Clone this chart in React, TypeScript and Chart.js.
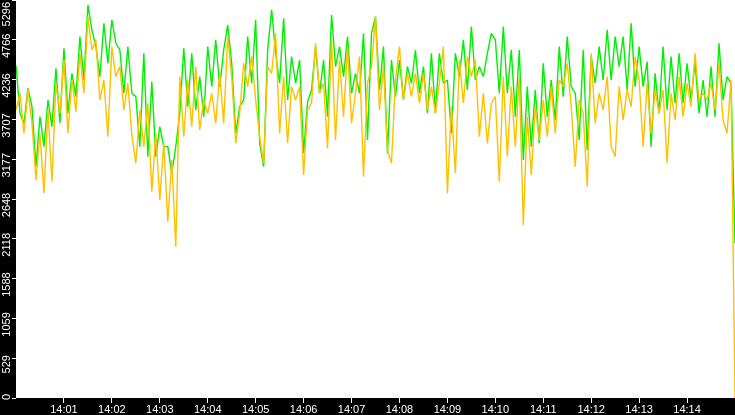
import { useEffect, useRef } from 'react';
import { Chart, registerables } from 'chart.js';

Chart.register(...registerables);

// one sample every 5 seconds, starting 14:00:00
const SAMPLE_STEP_S = 5;

const GREEN_SERIES = [
  4423, 3788, 3655, 4121, 3877, 3079, 3744, 3345, 3966, 3611,
  4388, 3655, 4654, 3788, 4321, 4010, 4809, 4232, 5230, 4898,
  4676, 4277, 4986, 4454, 5031, 4720, 4631, 4055, 4676, 4055,
  4010, 3345, 4587, 3212, 4210, 3212, 3611, 3345, 3345, 2990,
  3345, 3788, 4654, 3877, 4587, 3833, 4277, 3744, 4676, 4143,
  4765, 4143, 4631, 4964, 4454, 3522, 3877, 3966, 4809, 4188,
  5031, 3389, 3079, 4631, 5164, 4587, 4188, 5053, 3966, 4543,
  4188, 4498, 3256, 3944, 4099, 4676, 4055, 4498, 3744, 5097,
  4410, 4676, 4277, 4809, 4055, 4321, 4055, 4853, 3433, 4853,
  5075, 4099, 4676, 3256, 4498, 4010, 4498, 3966, 4410, 4188,
  4631, 4055, 4410, 3788, 4587, 3788, 4587, 4188, 4232, 3522,
  4587, 4277, 4765, 4099, 4942, 4232, 4410, 4277, 4587, 4853,
  4765, 4055, 4942, 4055, 4631, 3744, 4631, 3167, 4143, 3345,
  4099, 3389, 4454, 3744, 4232, 3700, 4676, 4010, 4809, 4143,
  4055, 3433, 4631, 3300, 4543, 4188, 4676, 4232, 4898, 4232,
  4809, 4410, 4809, 4099, 4986, 4143, 4676, 4143, 4476, 3345,
  4321, 3788, 4676, 3833, 4543, 3922, 4587, 3922, 4454, 3966,
  4476, 3788, 4232, 3744, 4410, 3744, 4720, 3966, 4277, 4188,
  2060,
];

const ORANGE_SERIES = [
  3833, 4055, 3522, 4099, 3655, 2901, 3522, 2724, 3833, 2879,
  4188, 3788, 4498, 3522, 4232, 3811, 4587, 4055, 5075, 4631,
  4765, 3966, 4232, 3478, 4676, 4277, 4410, 3833, 4188, 3500,
  3123, 3833, 3345, 3922, 2746, 3522, 2635, 3389, 2346, 3167,
  2014, 4277, 3478, 4232, 3611, 4410, 3567, 3966, 3788, 4055,
  3655, 4321, 3655, 4809, 4277, 3389, 3788, 4454, 4143, 4543,
  3966, 3478, 3123, 4410, 4321, 4853, 3522, 4277, 3389, 4143,
  3966, 4143, 2968, 3833, 3922, 4720, 4055, 4188, 3322, 4765,
  3433, 4498, 3744, 4676, 3655, 4055, 4543, 2945, 4188, 4410,
  5075, 3833, 4410, 3300, 3123, 4232, 4676, 3966, 4321, 4010,
  4321, 3922, 4321, 3833, 4143, 3788, 4188, 4676, 2724, 3877,
  2990, 4498, 3922, 4543, 4277, 4498, 3478, 4055, 3389, 3922,
  4010, 2879, 4277, 3212, 4143, 3345, 4277, 2302, 3744, 2968,
  3877, 3433, 3966, 3478, 4143, 3522, 4232, 4143, 4454, 3877,
  3079, 3966, 3788, 2812, 4587, 3655, 4055, 3833, 4277, 3345,
  3212, 4143, 3700, 4099, 3877, 4543, 4232, 3345, 4188, 3522,
  4099, 3788, 4099, 3123, 4055, 3700, 4277, 3744, 4188, 3877,
  4587, 3966, 4055, 3966, 4188, 3833, 4454, 3700, 3522, 4232,
  0,
];

const Y_MAX = 5296;
const Y_TICK_LABELS = ['0', '529', '1059', '1588', '2118', '2648', '3177', '3707', '4236', '4766', '5296'];

const X_TICK_SECONDS = [60, 120, 180, 240, 300, 360, 420, 480, 540, 600, 660, 720, 780, 840];
const X_TICK_LABELS = [
  '14:01', '14:02', '14:03', '14:04', '14:05', '14:06', '14:07',
  '14:08', '14:09', '14:10', '14:11', '14:12', '14:13', '14:14',
];
const X_MAX_S = 900;

const FONT = 'Liberation Sans';

const plotBackground = {
  id: 'plotBackground',
  beforeDraw(chart: any) {
    const { ctx, chartArea } = chart;
    ctx.save();
    ctx.fillStyle = '#ffffff';
    ctx.fillRect(chartArea.left, chartArea.top, chartArea.right - chartArea.left, chartArea.bottom - chartArea.top);
    ctx.restore();
  },
};

// rotated y labels, drawn next to the scale's own tick marks
const yLabels = {
  id: 'yLabels',
  afterDraw(chart: any) {
    const { ctx } = chart;
    const scale = chart.scales.y;
    const bottom = chart.chartArea.bottom;
    ctx.save();
    ctx.fillStyle = '#ffffff';
    ctx.font = `11px "${FONT}"`;
    ctx.textAlign = 'center';
    ctx.textBaseline = 'alphabetic';
    scale.ticks.forEach((t: any, i: number) => {
      const label = Y_TICK_LABELS[i];
      const w = ctx.measureText(label).width;
      let c = scale.getPixelForValue(t.value) + 6;
      c = Math.max(c, 2 + w / 2);
      c = Math.min(c, bottom + 2 - w / 2);
      ctx.save();
      ctx.translate(10, c);
      ctx.rotate(-Math.PI / 2);
      ctx.fillText(label, 0, 0);
      ctx.restore();
    });
    ctx.restore();
  },
};

export default function App() {
  const chartRef = useRef<HTMLCanvasElement>(null);
  const chartInstance = useRef<Chart | null>(null);

  useEffect(() => {
    document.body.style.margin = '0';
    if (!chartRef.current) return;
    const ctx = chartRef.current.getContext('2d');
    if (!ctx) return;
    if (chartInstance.current) chartInstance.current.destroy();

    const times = GREEN_SERIES.map((_, i) => i * SAMPLE_STEP_S);

    chartInstance.current = new Chart(ctx, {
      type: 'line',
      data: {
        datasets: [
          {
            label: 'orange',
            data: ORANGE_SERIES.map((v, i) => ({ x: times[i], y: v })),
            borderColor: '#ffc000',
            borderWidth: 1.4,
            borderJoinStyle: 'bevel',
            pointRadius: 0,
            tension: 0,
          },
          {
            label: 'green',
            data: GREEN_SERIES.map((v, i) => ({ x: times[i], y: v })),
            borderColor: '#00f000',
            borderWidth: 1.4,
            borderJoinStyle: 'bevel',
            pointRadius: 0,
            tension: 0,
          },
        ],
      },
      options: {
        animation: false,
        responsive: false,
        layout: { padding: 0 },
        plugins: {
          legend: { display: false },
          tooltip: { enabled: false },
        },
        scales: {
          x: {
            type: 'linear',
            min: 0,
            max: X_MAX_S,
            afterFit: (s: any) => { s.height = 17; },
            afterBuildTicks: (s: any) => { s.ticks = X_TICK_SECONDS.map((v) => ({ value: v })); },
            ticks: {
              color: '#ffffff',
              font: { family: FONT, size: 11 },
              padding: 0,
              maxRotation: 0,
              minRotation: 0,
              autoSkip: false,
              callback: (_v: any, i: number) => X_TICK_LABELS[i],
            },
            grid: { drawOnChartArea: false, tickLength: 5, tickColor: '#ffffff', color: '#ffffff' },
            border: { display: false },
          },
          y: {
            min: 0,
            max: Y_MAX,
            afterFit: (s: any) => { s.width = 16; },
            afterBuildTicks: (s: any) => { s.ticks = Y_TICK_LABELS.map((_, i) => ({ value: (Y_MAX * i) / 10 })); },
            ticks: { display: false },
            grid: { drawOnChartArea: false, tickLength: 4, tickColor: '#ffffff', color: '#ffffff' },
            border: { display: false },
          },
        },
      },
      plugins: [plotBackground, yLabels],
    });

    return () => {
      if (chartInstance.current) {
        chartInstance.current.destroy();
        chartInstance.current = null;
      }
    };
  }, []);

  return (
    <div style={{ width: 735, height: 415, background: '#000' }}>
      <canvas ref={chartRef} width={735} height={415} />
    </div>
  );
}
